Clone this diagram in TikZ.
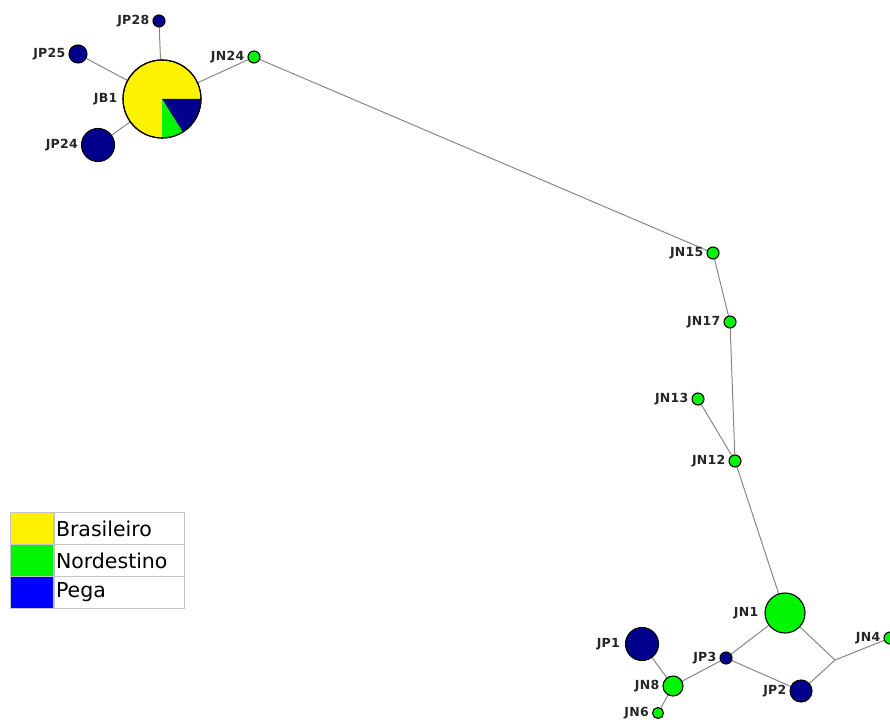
\documentclass[tikz,border=0pt]{standalone}
\usepackage{fontspec}
\setmainfont{DejaVu Sans}
\newfontfamily\labfont{DejaVu Sans Bold}[LetterSpace=2]
\usetikzlibrary{backgrounds}
\definecolor{navy}{RGB}{0,0,140}
\definecolor{ngreen}{RGB}{0,245,0}
\definecolor{edgegray}{RGB}{135,135,135}
\definecolor{leggray}{RGB}{195,195,195}
\begin{document}
\begin{tikzpicture}[x=1pt,y=-1pt,
  hap/.style={circle,draw=black,line width=1.1pt,inner sep=0pt,minimum size=#1},
  pn/.style={hap=#1,fill=navy},
  gn/.style={hap=#1,fill=ngreen},
  lbl/.style={font=\labfont\fontsize{12.5}{13}\selectfont,inner sep=0pt,label distance=3pt,text=black!85},
  edge/.style={draw=edgegray,line width=1pt},
  legcell/.style={draw=leggray,line width=1pt,minimum width=43,minimum height=32,inner sep=0pt},
  legtext/.style={draw=leggray,line width=1pt,minimum width=130,minimum height=32,inner sep=0pt,text width=126,align=left,font=\fontsize{20.5}{21}\selectfont}
]
\useasboundingbox (0,0) rectangle (890,719);
% nodes
\node[hap=78,fill=yellow,label={[lbl,label distance=5pt]left:JB1}] (JB1) at (162,99) {};
\fill[navy] (JB1.center) -- ++(0:38.6) arc[start angle=0,end angle=58,radius=38.6] -- cycle;
\fill[ngreen] (JB1.center) -- ++(58:38.6) arc[start angle=58,end angle=90,radius=38.6] -- cycle;
\draw[line width=1.1pt] (JB1.center) circle[radius=39];
\node[pn=12,label={[lbl]left:JP28}] (JP28) at (159,21) {};
\node[pn=18,label={[lbl]left:JP25}] (JP25) at (78,54) {};
\node[pn=33,label={[lbl]left:JP24}] (JP24) at (98,145) {};
\node[gn=12,label={[lbl]left:JN24}] (JN24) at (254,57) {};
\node[gn=12,label={[lbl]left:JN15}] (JN15) at (713,253) {};
\node[gn=12,label={[lbl]left:JN17}] (JN17) at (730,322) {};
\node[gn=12,label={[lbl]left:JN13}] (JN13) at (698,399) {};
\node[gn=12,label={[lbl]left:JN12}] (JN12) at (735,461) {};
\node[gn=40,label={[lbl,label distance=6pt]left:JN1}] (JN1) at (785,613) {};
\node[gn=12,label={[lbl]left:JN4}] (JN4) at (890,638) {};
\node[pn=33,label={[lbl,label distance=5pt]left:JP1}] (JP1) at (642,644) {};
\node[pn=12,label={[lbl]left:JP3}] (JP3) at (726,658) {};
\node[gn=20,label={[lbl]left:JN8}] (JN8) at (673,686) {};
\node[gn=11,label={[lbl]left:JN6}] (JN6) at (658,713) {};
\node[pn=22,label={[lbl]left:JP2}] (JP2) at (801,691) {};
\coordinate (J) at (835,660);
% edges
\begin{scope}[on background layer]
\draw[edge] (JB1) -- (JP28);
\draw[edge] (JB1) -- (JP25);
\draw[edge] (JB1) -- (JP24);
\draw[edge] (JB1) -- (JN24);
\draw[edge] (JN24) -- (JN15);
\draw[edge] (JN15) -- (JN17);
\draw[edge] (JN17) -- (JN12);
\draw[edge] (JN13) -- (JN12);
\draw[edge] (JN12) -- (JN1);
\draw[edge] (JN1) -- (JP3);
\draw[edge] (JN1) -- (J);
\draw[edge] (J) -- (JN4);
\draw[edge] (J) -- (JP2);
\draw[edge] (JP3) -- (JP2);
\draw[edge] (JP3) -- (JN8);
\draw[edge] (JN8) -- (JP1);
\draw[edge] (JN8) -- (JN6);
\end{scope}
% legend
\node[legcell,fill=yellow,anchor=north west] (c1) at (9.5,512) {};
\node[legcell,fill=ngreen,anchor=north west] (c2) at (9.5,544) {};
\node[legcell,fill=blue,anchor=north west] (c3) at (9.5,576) {};
\node[legtext,anchor=west] (t1) at (c1.east) {Brasileiro};
\node[legtext,anchor=west] (t2) at (c2.east) {Nordestino};
\node[legtext,anchor=west] (t3) at (c3.east) {Pega};
\end{tikzpicture}
\end{document}
